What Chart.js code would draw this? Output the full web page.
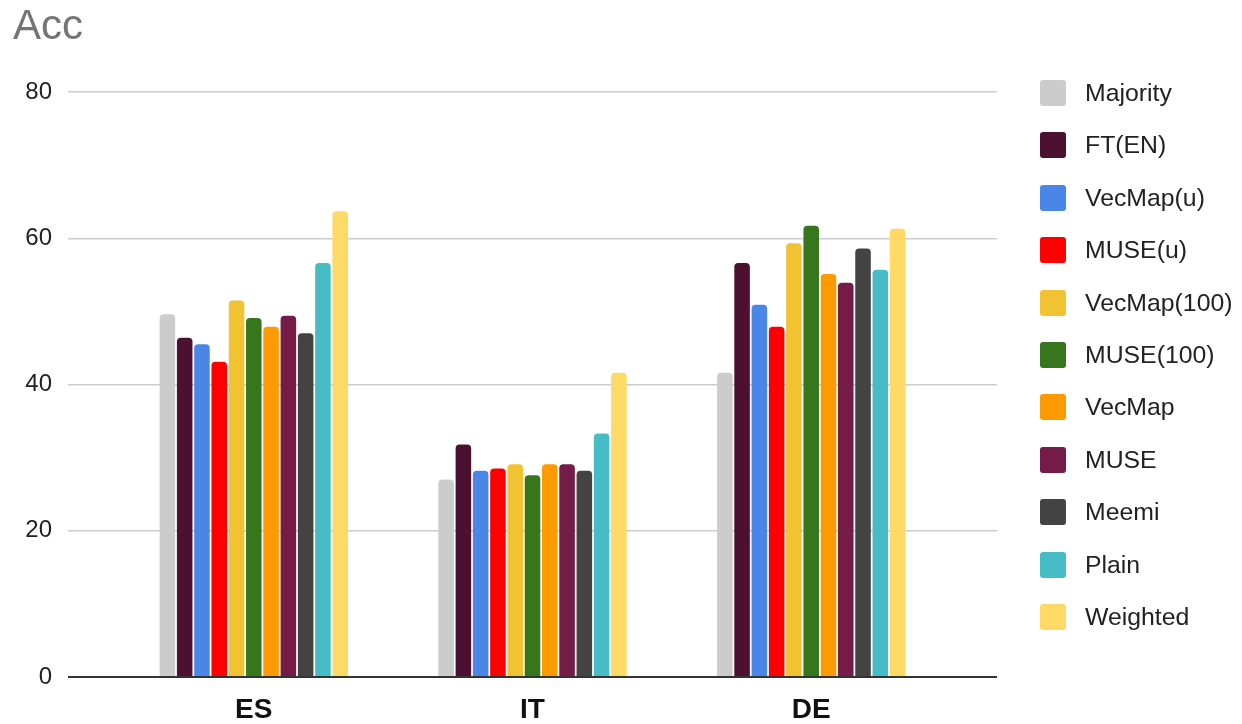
<!DOCTYPE html>
<html>
<head>
<meta charset="utf-8">
<script src="https://cdn.jsdelivr.net/npm/chart.js@4/dist/chart.umd.min.js"></script>
<style>
  html, body { margin: 0; padding: 0; background: #fff; }
  #wrap { position: relative; width: 1242px; height: 724px; }
  #chart { position: absolute; left: 0; top: 0; }
  #legend { position: absolute; left: 1040px; top: 80px; margin: 0; padding: 0; list-style: none;
            font-family: "Liberation Sans", Arial, sans-serif; font-size: 24.8px; color: #222; }
  #legend li { display: flex; align-items: center; height: 26px; margin-bottom: 26.4px; }
  #legend .box { width: 26px; height: 26px; border-radius: 3px; margin-right: 19px; flex: none; }
</style>
</head>
<body>
<div id="wrap">
  <canvas id="chart" width="1242" height="724"></canvas>
  <ul id="legend"></ul>
</div>
<script>
const languages = ['ES', 'IT', 'DE'];
const methods = ['Majority', 'FT(EN)', 'VecMap(u)', 'MUSE(u)', 'VecMap(100)', 'MUSE(100)',
                 'VecMap', 'MUSE', 'Meemi', 'Plain', 'Weighted'];
const colors = ['#cccccc', '#4c1130', '#4a86e8', '#ff0000', '#f1c232', '#38761d',
                '#ff9900', '#741b47', '#434343', '#46bdc6', '#ffd966'];

// accuracy per method, one array per language
const accES = [49.6, 46.4, 45.5, 43.1, 51.5, 49.1, 47.9, 49.4, 47.0, 56.6, 63.7];
const accIT = [27.0, 31.8, 28.2, 28.5, 29.1, 27.6, 29.1, 29.1, 28.2, 33.3, 41.6];
const accDE = [41.6, 56.6, 50.9, 47.9, 59.3, 61.7, 55.1, 53.9, 58.6, 55.7, 61.3];
const yTicks = [0, 20, 40, 60, 80];

const FONT = '"Liberation Sans", Arial, sans-serif';
const byLang = [accES, accIT, accDE];

// x is linear so the grid can run past the outer groups; languages sit at 1, 2, 3
const datasets = methods.map((m, i) => ({
    label: m,
    data: byLang.map((arr, j) => ({ x: j + 1, y: arr[i] })),
    backgroundColor: colors[i],
    borderRadius: { topLeft: 4, topRight: 4, bottomLeft: 0, bottomRight: 0 },
    borderSkipped: 'start',
    categoryPercentage: 0.682,
    barPercentage: 0.9
}));

new Chart(document.getElementById('chart'), {
    type: 'bar',
    data: { datasets },
    options: {
        responsive: false,
        animation: false,
        layout: { padding: { left: 13, right: 245, top: 0, bottom: 0 } },
        plugins: {
            legend: { display: false },
            tooltip: { enabled: false },
            title: {
                display: true,
                text: 'Acc',
                align: 'start',
                color: '#757575',
                font: { family: FONT, size: 42, weight: 'normal' },
                padding: { top: 2, bottom: 39.6 }
            }
        },
        scales: {
            x: {
                type: 'linear',
                offset: false,
                min: 1 / 3,
                max: 11 / 3,
                afterBuildTicks(scale) {
                    scale.ticks = languages.map((l, j) => ({ value: j + 1 }));
                },
                afterFit(scale) { scale.height = 47; },
                ticks: {
                    callback: (v) => languages[v - 1],
                    color: '#111',
                    padding: 19,
                    maxRotation: 0,
                    autoSkip: false,
                    font: { family: FONT, size: 28, weight: 'bold', lineHeight: 1 }
                },
                grid: { display: false, drawTicks: false },
                border: { display: false }
            },
            y: {
                min: 0,
                max: 80,
                afterBuildTicks(scale) {
                    scale.ticks = yTicks.map(v => ({ value: v }));
                },
                afterFit(scale) { scale.width = 55; },
                ticks: {
                    color: '#222',
                    padding: 16,
                    font: { family: FONT, size: 24 }
                },
                grid: {
                    drawTicks: false,
                    color: (ctx) => ctx.tick && ctx.tick.value === 0 ? '#333333' : '#cccccc',
                    lineWidth: (ctx) => ctx.tick && ctx.tick.value === 0 ? 2 : 1.5
                },
                border: { display: false }
            }
        }
    }
});

// legend list built from the same method names and colours
const legend = document.getElementById('legend');
methods.forEach((m, i) => {
    const li = document.createElement('li');
    const box = document.createElement('span');
    box.className = 'box';
    box.style.background = colors[i];
    li.appendChild(box);
    li.appendChild(document.createTextNode(m));
    legend.appendChild(li);
});
</script>
</body>
</html>
